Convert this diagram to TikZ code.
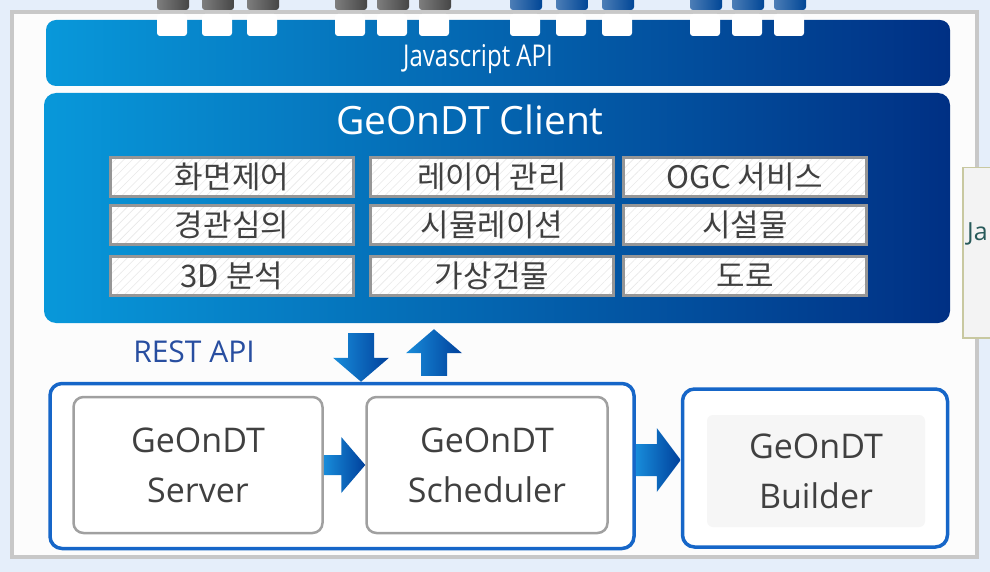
\documentclass[tikz,border=0pt]{standalone}
\usepackage{fontspec}
\setmainfont{Open Sans}
\newfontfamily\krfont{Noto Sans CJK KR}
\newfontfamily\narrowfont[FakeStretch=0.8]{Open Sans}
\usetikzlibrary{calc,patterns.meta}

\definecolor{bgblue}{RGB}{229,238,250}
\definecolor{framegray}{RGB}{200,200,200}
\definecolor{framefill}{RGB}{252,252,252}
\definecolor{barlight}{RGB}{8,152,218}
\definecolor{bardark}{RGB}{0,48,132}
\definecolor{tabgray}{RGB}{70,70,70}
\definecolor{tabblue}{RGB}{0,70,150}
\definecolor{cellgray}{RGB}{150,150,150}
\definecolor{textgray}{RGB}{64,64,64}
\definecolor{boxgray}{RGB}{160,160,160}
\definecolor{boxblue}{RGB}{22,102,200}
\definecolor{innergray}{RGB}{246,246,246}
\definecolor{restblue}{RGB}{40,78,160}
\definecolor{arrowlight}{RGB}{24,140,218}
\definecolor{arrowdark}{RGB}{0,64,155}
\definecolor{jaolive}{RGB}{200,200,160}
\definecolor{jafill}{RGB}{243,243,243}
\definecolor{jateal}{RGB}{40,90,90}

\tikzset{
  panel/.style={rounded corners=12pt, left color=barlight, right color=bardark, inner sep=0pt},
  cell/.style={draw=cellgray, line width=2.5pt, preaction={fill=white},
    pattern={Lines[angle=45,distance=6pt,line width=0.6pt]}, pattern color=gray!18,
    minimum width=243pt, minimum height=39pt, inner sep=0pt,
    font=\krfont\fontsize{31}{34}\selectfont, text=textgray},
  srvbox/.style={draw=boxgray, line width=2.5pt, fill=white, rounded corners=10pt,
    minimum height=136pt, align=center, inner sep=0pt,
    font=\fontsize{34}{50}\selectfont, text=textgray},
  bluebox/.style={draw=boxblue, line width=3.5pt, fill=white, rounded corners=12pt, inner sep=0pt},
  arrowfill/.style={left color=arrowlight, right color=arrowdark},
}

% horizontal block arrow, from #1 to the tip #2, half widths #3 (shaft) and #4 (head)
\newcommand{\harrow}[4]{%
  \shade[arrowfill] let \p1=(#1), \p2=(#2) in
    (\x1,\y1+#3pt) -- (\x2-24pt,\y1+#3pt) -- (\x2-24pt,\y1+#4pt) -- (\x2,\y1)
    -- (\x2-24pt,\y1-#4pt) -- (\x2-24pt,\y1-#3pt) -- (\x1,\y1-#3pt) -- cycle;
}
% vertical block arrow, from #1 to the tip #2
\newcommand{\varrow}[2]{%
  \shade[arrowfill] let \p1=(#1), \p2=(#2), \n1={\y2-sign(\y2-\y1)*24pt} in
    (\x1-13pt,\y1) -- (\x1-13pt,\n1*1pt) -- (\x1-28pt,\n1*1pt) -- (\x1,\y2)
    -- (\x1+28pt,\n1*1pt) -- (\x1+13pt,\n1*1pt) -- (\x1+13pt,\y1) -- cycle;
}

\begin{document}
\begin{tikzpicture}[x=1pt, y=-1pt]
  % page with light blue background
  \useasboundingbox (0,0) rectangle (990,572);
  \fill[bgblue] (0,0) rectangle (990,572);

  % grey frame around the platform
  \draw[framegray, line width=4pt, fill=framefill] (12,12) rectangle (977,557);

  % plugs above the frame
  \foreach \g/\s/\c in {157/45/tabgray, 335/42/tabgray, 510/46/tabblue, 690/42/tabblue} {
    \foreach \i in {0,1,2} {
      \shade[left color=\c!70, right color=\c, rounded corners=3pt]
        (\g+\i*\s,-8) rectangle ++(32,18);
    }
  }

  % javascript api bar with its sockets
  \node[panel, minimum width=904pt, minimum height=66pt, rounded corners=10pt] (jsapi) at (498,53) {};
  \node[text=white, font=\narrowfont\fontsize{30}{34}\selectfont] (jslabel) at (478,59) {Javascript API};
  \foreach \g/\s in {157/45, 335/42, 510/46, 690/42} {
    \foreach \i in {0,1,2} {
      \fill[white, rounded corners=3pt] (\g+\i*\s,14) rectangle ++(30,22);
    }
  }

  % client panel and its modules
  \node[panel, minimum width=906pt, minimum height=230pt] (client) at (497,208) {};
  \node[text=white, font=\fontsize{39}{44}\selectfont] (clientlabel) at (470,120) {GeOnDT Client};
  \node[cell] (screen) at (232,177) {화면제어};
  \node[cell] (layer) at (492,177) {레이어 관리};
  \node[cell] (ogc) at (745,177) {OGC 서비스};
  \node[cell] (landscape) at (232,225) {경관심의};
  \node[cell] (simul) at (492,225) {시뮬레이션};
  \node[cell] (facility) at (745,225) {시설물};
  \node[cell] (analysis) at (232,276) {3D 분석};
  \node[cell] (virtual) at (492,276) {가상건물};
  \node[cell] (road) at (745,276) {도로};

  \node[text=restblue, font=\fontsize{30}{34}\selectfont] (rest) at (194,352) {REST API};

  % server group
  \node[bluebox, minimum width=584pt, minimum height=165pt] (group) at (342,466) {};
  \node[srvbox, minimum width=249pt] (server) at (198,465) {GeOnDT\\Server};
  \node[srvbox, minimum width=241pt] (sched) at (487,465) {GeOnDT\\Scheduler};

  % builder
  \node[bluebox, minimum width=265pt, minimum height=158pt] (builder) at (815,468) {};
  \node[fill=innergray, rounded corners=6pt, minimum width=218pt, minimum height=112pt,
    align=center, inner sep=0pt, font=\fontsize{34}{50}\selectfont, text=textgray]
    (buildertxt) at (816,471) {GeOnDT\\Builder};

  % arrows
  \coordinate (dntop) at ($(client.south)+(-136,10)$);
  \coordinate (dntip) at ($(group.north)+(19,0)$);
  \coordinate (upbot) at ($(group.north)+(92,-6)$);
  \coordinate (uptip) at ($(client.south)+(-63,6)$);
  \coordinate (blfrom) at ($(group.east)+(0,-6)$);
  \coordinate (blto) at ($(builder.west)+(0,-8)$);
  \varrow{dntop}{dntip}
  \varrow{upbot}{uptip}
  \harrow{server.east}{sched.west}{10}{28}
  \harrow{blfrom}{blto}{16}{32}

  % box cut by the right edge
  \node[draw=jaolive, line width=1.5pt, fill=jafill, minimum width=60pt, minimum height=170pt,
    anchor=north west] (jabox) at (962,167) {};
  \node[text=jateal, font=\fontsize{25}{30}\selectfont, anchor=west, inner sep=0pt] (jalabel) at (967,234) {Ja};
\end{tikzpicture}
\end{document}
